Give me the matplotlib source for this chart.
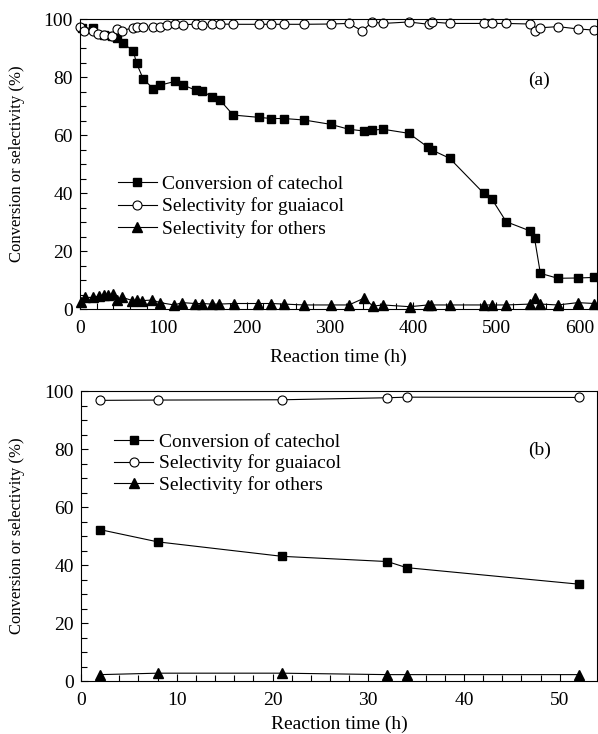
import numpy as np
import matplotlib as mpl
mpl.use('Agg')
from matplotlib.pyplot import *
from matplotlib.ticker import MultipleLocator

# (a) long-term run
t_conv_a = [2, 16, 29, 39, 45, 52, 64, 68, 76, 88, 96, 114, 124, 139, 147, 159, 168, 184, 215, 230,
            245, 269, 301, 323, 341, 351, 364, 395, 418, 423, 444, 485, 495, 512, 540, 546, 553, 574, 598, 618]
conv_a   = [97, 96.8, 94.5, 94, 93.5, 91.6, 89, 84.7, 79.3, 76, 77.2, 78.5, 77.2, 75.5, 75.2, 73, 72.1, 66.9, 66.1, 65.7,
            65.7, 65.2, 63.7, 62, 61.4, 61.7, 62, 60.6, 55.8, 54.8, 52, 39.9, 37.8, 30.1, 27, 24.4, 12.3, 10.6, 10.7, 10.9]

t_guai_a = [0, 5, 16, 22, 29, 39, 45, 50, 64, 68, 76, 88, 96, 104, 114, 124, 139, 147, 159, 168,
            184, 215, 230, 245, 269, 301, 323, 339, 351, 364, 395, 419, 423, 444, 485, 495, 512, 540, 546, 553,
            574, 598, 618]
guai_a   = [97.2, 96, 95.8, 95, 94.4, 94.3, 96.7, 96, 97, 97.2, 97.2, 97.2, 97.4, 97.8, 98.4, 98.1, 98.2, 97.9, 98.3, 98.3,
            98.2, 98.2, 98.2, 98.2, 98.2, 98.3, 98.5, 95.9, 99, 98.5, 99, 98.2, 99, 98.5, 98.5, 98.5, 98.5, 98.3, 95.9, 97,
            97.4, 96.6, 96.2]

t_oth_a  = [1, 6, 16, 23, 29, 34, 40, 45, 51, 63, 69, 75, 87, 96, 113, 123, 138, 147, 158, 167,
            185, 214, 230, 245, 269, 301, 323, 341, 352, 364, 396, 418, 422, 444, 485, 495, 512, 541, 546, 553,
            574, 598, 618]
oth_a    = [2.5, 4.0, 4.0, 4.5, 4.8, 4.8, 5.2, 3.1, 4.0, 2.9, 3.1, 2.9, 3.1, 2.2, 1.4, 2.2, 1.9, 1.9, 1.7, 1.7,
            1.9, 1.9, 1.9, 1.7, 1.4, 1.4, 1.4, 3.7, 1.0, 1.4, 0.8, 1.4, 1.4, 1.4, 1.4, 1.4, 1.4, 1.7, 3.7, 1.7,
            1.4, 2.2, 1.9]

# (b) short run
t_b      = [2, 8, 21, 32, 34, 52]
conv_b   = [52.2, 48.0, 43.0, 41.2, 39.1, 33.4]
guai_b   = [96.8, 96.9, 97.0, 97.7, 97.9, 97.8]
oth_b    = [2.2, 2.7, 2.7, 2.2, 2.2, 2.2]

labels   = ['Conversion of catechol', 'Selectivity for guaiacol', 'Selectivity for others']

rc("font", family="Liberation Serif", size=14)
rc("axes", linewidth=0.8, edgecolor='k')
rc("xtick", direction='in', top=False)
rc("ytick", direction='in', right=False)

fig = figure(figsize=(5.98, 7.34), dpi=100)
ax1 = fig.add_axes([0.1338, 0.579, 0.8645, 0.395])
ax2 = fig.add_axes([0.1355, 0.0722, 0.863, 0.395])


def draw(ax, tc, c, tg, g, to, o, ylab_x, xpad):
	kw = dict(color='k', lw=0.8, clip_on=False)
	ax.plot(tc, c, marker='s', ms=5.5, mfc='k', mec='k', label=labels[0], **kw)
	ax.plot(tg, g, marker='o', ms=6.5, mfc='w', mec='k', mew=0.8, label=labels[1], **kw)
	ax.plot(to, o, marker='^', ms=7, mfc='k', mec='k', label=labels[2], **kw)
	ax.set_ylim(0, 100)
	ax.yaxis.set_major_locator(MultipleLocator(20))
	ax.yaxis.set_minor_locator(MultipleLocator(5))
	ax.tick_params(which='major', length=5, width=0.8)
	ax.tick_params(which='minor', length=4, width=0.8)
	ax.tick_params(axis='x', which='major', pad=8)
	ax.tick_params(axis='y', which='major', pad=5)
	ax.set_xlabel('Reaction time (h)', labelpad=xpad)
	ax.set_ylabel('Conversion or selectivity (%)', fontsize=12)
	ax.yaxis.set_label_coords(ylab_x, 0.5)


draw(ax1, t_conv_a, conv_a, t_guai_a, guai_a, t_oth_a, oth_a, -0.107, 8)
ax1.set_xlim(0, 621)
ax1.xaxis.set_major_locator(MultipleLocator(100))
ax1.xaxis.set_minor_locator(MultipleLocator(20))
ax1.text(0.888, 0.79, '(a)', transform=ax1.transAxes, ha='center', va='center')
ax1.legend(loc='upper left', bbox_to_anchor=(0.073, 0.462), frameon=False, borderpad=0,
           borderaxespad=0, handlelength=2.0, handletextpad=0.3, labelspacing=0.25, numpoints=1)

draw(ax2, t_b, conv_b, t_b, guai_b, t_b, oth_b, -0.109, 5)
ax2.set_xlim(0, 53.9)
ax2.xaxis.set_major_locator(MultipleLocator(10))
ax2.xaxis.set_minor_locator(MultipleLocator(2))
ax2.text(0.888, 0.797, '(b)', transform=ax2.transAxes, ha='center', va='center')
ax2.legend(loc='upper left', bbox_to_anchor=(0.064, 0.855), frameon=False, borderpad=0,
           borderaxespad=0, handlelength=2.0, handletextpad=0.3, labelspacing=0.2, numpoints=1)

savefig('out.png', dpi=100)
close()
